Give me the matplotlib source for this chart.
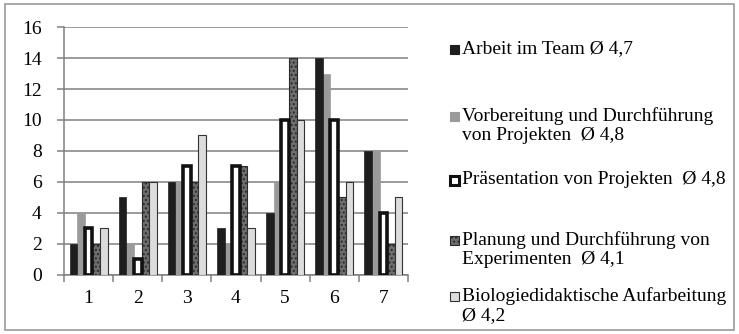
import numpy as np
import matplotlib
matplotlib.use("Agg")
import matplotlib.pyplot as plt
from matplotlib.patches import Rectangle

plt.rcParams['font.family'] = ['Liberation Serif', 'DejaVu Serif']

categories = ["1", "2", "3", "4", "5", "6", "7"]
team = [2, 5, 6, 3, 4, 14, 8]
vorbereitung = [4, 2, 6, 2, 6, 13, 8]
praesentation = [3, 1, 7, 7, 10, 10, 4]
planung = [2, 6, 6, 7, 14, 5, 2]
biologie = [3, 6, 9, 3, 10, 6, 5]

labels = [
    "Arbeit im Team Ø 4,7",
    "Vorbereitung und Durchführung\nvon Projekten  Ø 4,8",
    "Präsentation von Projekten  Ø 4,8",
    "Planung und Durchführung von\nExperimenten  Ø 4,1",
    "Biologiedidaktische Aufarbeitung\nØ 4,2",
]

styles = [
    dict(facecolor="#1e1e1e", edgecolor="#1e1e1e", linewidth=0.5),
    dict(facecolor="#9a9a9a", edgecolor="#9a9a9a", linewidth=0.5),
    dict(facecolor="white", edgecolor="#111111", linewidth=2.6),
    dict(facecolor="#6e6e6e", edgecolor="#2a2a2a", linewidth=0.8, hatch="...."),
    dict(facecolor="#dcdcdc", edgecolor="#333333", linewidth=0.8),
]

series = [team, vorbereitung, praesentation, planung, biologie]

fig = plt.figure(figsize=(7.39, 3.34), dpi=100)
fig.patches.append(Rectangle((0.007, 0.012), 0.986, 0.975, transform=fig.transFigure,
                             fill=False, edgecolor="#9a9a9a", linewidth=1.2))

ax = fig.add_axes([0.0866, 0.177, 0.4655, 0.742])
x = np.arange(1, len(categories) + 1)
w = 0.155
offsets = (np.arange(5) - 2) * w
order = [1, 0, 3, 4, 2]
for i in order:
    ax.bar(x + offsets[i], series[i], width=w, zorder=3 + (1 if i == 2 else 0), **styles[i])

ax.set_xlim(0.5, 7.5)
ax.set_ylim(0, 16)
ax.set_yticks(range(0, 17, 2))
ax.yaxis.grid(True, color="#808080", linewidth=1.1, zorder=0)
ax.set_axisbelow(True)
ax.set_xticks(x)
ax.set_xticklabels(categories)
ax.set_xticks(np.arange(0.5, 8.0, 1.0), minor=True)
ax.tick_params(axis="x", which="major", length=0, pad=11, labelsize=14)
ax.tick_params(axis="x", which="minor", length=5, color="#808080", width=1.1)
ax.tick_params(axis="y", length=5, color="#808080", width=1.1, labelsize=14, pad=11)
for s in ["top", "right"]:
    ax.spines[s].set_visible(False)
for s in ["left", "bottom"]:
    ax.spines[s].set_color("#808080")
    ax.spines[s].set_linewidth(1.1)

# legend drawn as marker squares and text in figure pixels
W, H = 739, 334
first_line_y = [49, 116, 180, 240, 296]
for i, (lab, yy) in enumerate(zip(labels, first_line_y)):
    st = styles[i]
    lw = 2.2 if i == 2 else 0.8
    sq = Rectangle((450 / W, 1 - (yy + 5) / H), 9 / W, 9 / H, transform=fig.transFigure,
                   facecolor=st["facecolor"], edgecolor=st["edgecolor"], linewidth=lw,
                   hatch=st.get("hatch"))
    fig.patches.append(sq)
    fig.text(462 / W, 1 - (yy - 9) / H, lab, fontsize=14, va="top", ha="left",
             linespacing=1.15)

fig.savefig("out.png", dpi=100)
